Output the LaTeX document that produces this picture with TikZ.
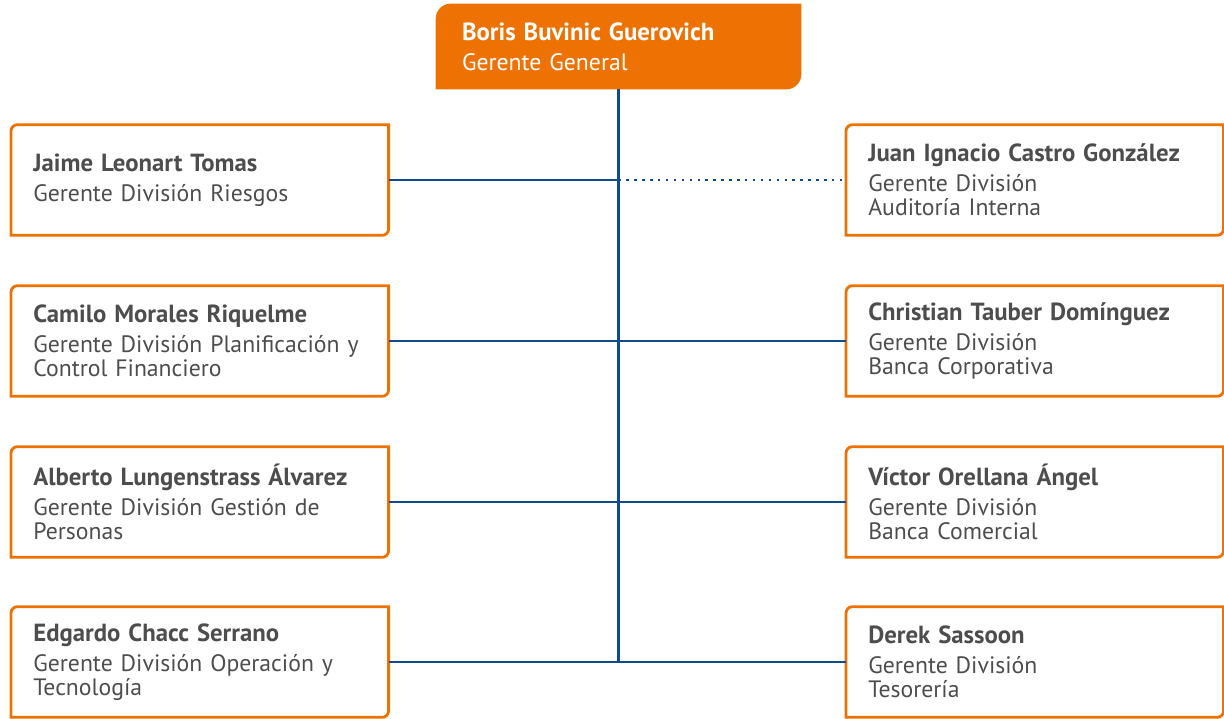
\documentclass[tikz,border=0pt]{standalone}
\usepackage{fontspec}
\setmainfont{PT Sans}
\usetikzlibrary{calc,backgrounds}
\definecolor{bancorange}{RGB}{238,114,3}
\definecolor{linkblue}{RGB}{14,74,140}
\definecolor{textgray}{RGB}{77,77,77}
\newcommand{\who}[1]{{\fontsize{14.1}{13.6}\selectfont\bfseries #1}\\[3.4pt]}
\newcommand{\orgframe}[3][]{%
  \path[#1] (#2.north east) -- ($(#2.south east)+(0,#3)$)
    arc[start angle=0, end angle=-90, radius=#3] -- (#2.south west)
    -- ($(#2.north west)+(0,-#3)$)
    arc[start angle=180, end angle=90, radius=#3] -- cycle;}

\begin{document}
\begin{tikzpicture}[x=0.02cm, y=-0.02cm,
    member/.style={anchor=west, minimum width=7.54cm, minimum height=2.2cm,
      text width=7.54cm-0.88cm, inner xsep=0.44cm, inner ysep=0pt, align=left,
      text=textgray, font=\fontsize{13.5}{13.6}\selectfont},
    frame/.style={draw=bancorange, line width=1.6pt},
    link/.style={draw=linkblue, line width=1.6pt},
    dotlink/.style={link, dash pattern=on 1.4pt off 3.1pt}]
  \useasboundingbox (0,0) rectangle (1224,719);

  \node[minimum width=7.3cm, minimum height=1.7cm, text width=7.3cm-1.04cm,
    inner xsep=0.52cm, inner ysep=0pt, align=left, text=white,
    font=\fontsize{13.5}{13.6}\selectfont] (gg) at (618.5,46.5)
    {\who{Boris Buvinic Guerovich}Gerente General};

  \node[member] (l1) at (11,180) {\who{Jaime Leonart Tomas}Gerente División Riesgos};
  \node[member] (l2) at (11,341) {\who{Camilo Morales Riquelme}Gerente División Planificación y\\Control Financiero};
  \node[member] (l3) at (11,502) {\who{Alberto Lungenstrass Álvarez}Gerente División Gestión de\\Personas};
  \node[member] (l4) at (11,662) {\who{Edgardo Chacc Serrano}Gerente División Operación y\\Tecnología};

  \node[member] (r1) at (846,180) {\who{Juan Ignacio Castro González}Gerente División\\Auditoría Interna};
  \node[member] (r2) at (846,341) {\who{Christian Tauber Domínguez}Gerente División\\Banca Corporativa};
  \node[member] (r3) at (846,502) {\who{Víctor Orellana Ángel}Gerente División\\Banca Comercial};
  \node[member] (r4) at (846,662) {\who{Derek Sassoon}Gerente División\\Tesorería};

  \begin{scope}[on background layer]
    \orgframe[fill=bancorange]{gg}{0.3cm}
  \end{scope}
  \foreach \n in {l1,l2,l3,l4,r1,r2,r3,r4}
    \orgframe[frame]{\n}{0.13cm};

  \coordinate (trunk) at (gg.south |- l4.east);
  \draw[link] (gg.south) -- (trunk);
  \draw[link] (l1.east) -- (l1.east -| gg.south);
  \draw[dotlink] (l1.east -| gg.south) -- (r1.west);
  \draw[link] (l2.east) -- (r2.west);
  \draw[link] (l3.east) -- (r3.west);
  \draw[link] (l4.east) -- (r4.west);
\end{tikzpicture}
\end{document}
